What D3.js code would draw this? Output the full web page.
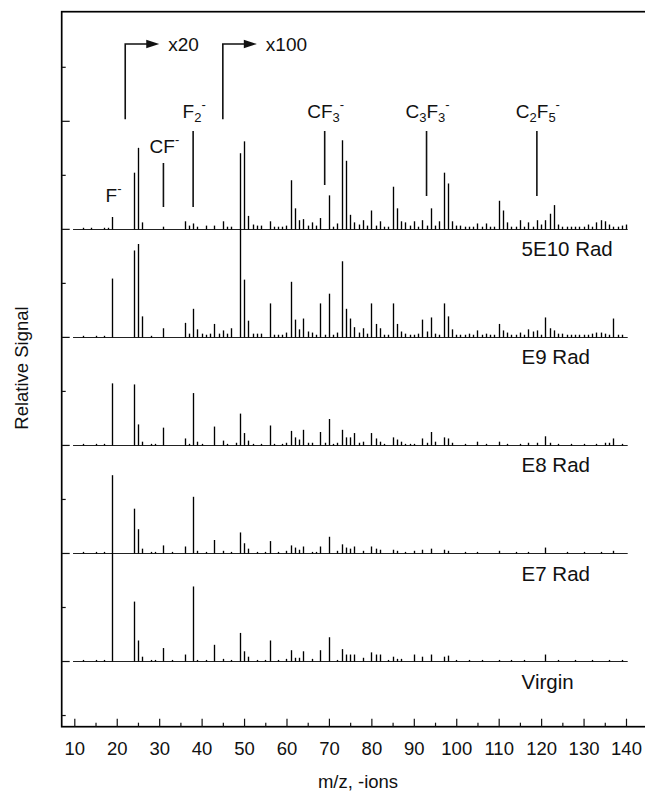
<!DOCTYPE html>
<html>
<head>
<meta charset="utf-8">
<title>Negative ion spectra</title>
<script src="https://d3js.org/d3.v7.min.js"></script>
<style>
    body { margin: 0; background-color: #fff; }
    svg text { font-family: "Liberation Sans", Arial, Helvetica, sans-serif; fill: #111; }
</style>
</head>
<body>
<svg width="645" height="795"></svg>
<script>
    // spectra, top to bottom; each entry is [m/z, relative signal]
    var spectrumNames = ["5E10 Rad", "E9 Rad", "E8 Rad", "E7 Rad", "Virgin"];
    var spectrumOffsets = [400, 300, 200, 100, 0];

    var rad5E10 = [[12,1],[14,1],[17,1],[18,1],[19,11],[24,52],[25,75],[26,6],[31,2],[36,7],[37,3],[38,5],[39,2],[41,3],[43,3],
        [45,7],[46,2],[47,2],[49,70],[50,81],[51,12],[52,4],[53,3],[54,3],[56,7],[57,2],[58,2],[59,2],[60,3],[61,45],[62,19],
        [63,8],[64,9],[65,3],[66,6],[67,3],[68,10],[70,31],[71,2],[72,5],[73,82],[74,63],[75,13],[76,6],[77,4],[78,8],[79,3],
        [80,17],[81,3],[82,7],[83,2],[84,2],[85,39],[86,19],[87,7],[88,6],[89,3],[90,7],[91,2],[92,8],[93,3],[94,19],[95,3],
        [96,7],[97,52],[98,42],[99,7],[100,3],[101,3],[102,2],[103,2],[104,2],[105,5],[106,2],[107,5],[108,2],[109,2],[110,26],
        [111,17],[112,6],[113,2],[114,2],[115,8],[116,2],[117,6],[118,2],[119,8],[120,4],[121,8],[122,14],[123,22],[124,4],
        [125,2],[126,2],[127,2],[128,2],[129,2],[130,2],[131,4],[132,2],[133,6],[134,8],[135,7],[136,4],[137,2],[138,2],[139,3],[140,4]];

    var radE9 = [[12,1],[15,1],[17,1],[19,54],[24,80],[25,86],[26,19],[28,1],[31,8],[36,13],[37,3],[38,26],[39,7],[40,3],[41,2],
        [42,3],[43,12],[44,3],[45,6],[46,3],[47,8],[49,100],[50,53],[51,15],[52,3],[53,3],[54,3],[56,31],[57,2],[58,2],[59,2],
        [60,4],[61,51],[62,16],[63,7],[64,17],[65,5],[66,4],[67,2],[68,31],[69,2],[70,40],[71,2],[72,4],[73,70],[74,26],[75,17],
        [76,9],[77,4],[78,8],[79,3],[80,31],[81,12],[82,8],[83,2],[84,2],[85,31],[86,12],[87,5],[88,3],[89,2],[90,2],[91,3],
        [92,16],[93,5],[94,18],[95,3],[96,2],[97,31],[98,19],[99,7],[100,2],[101,2],[102,2],[103,3],[104,2],[105,6],[106,2],
        [107,3],[108,2],[109,2],[110,12],[111,6],[112,4],[113,2],[114,2],[115,4],[116,2],[117,7],[118,5],[119,6],[120,2],
        [121,18],[122,8],[123,6],[124,3],[125,3],[126,2],[127,2],[128,2],[129,2],[130,2],[131,2],[132,3],[133,4],[134,4],
        [135,3],[136,2],[137,17],[138,2],[139,2]];

    var radE8 = [[12,1],[15,1],[17,1],[19,57],[24,56],[25,19],[26,3],[28,1],[29,1],[31,16],[36,6],[37,1],[38,48],[39,3],[40,1],
        [43,17],[45,4],[46,1],[48,2],[49,29],[50,11],[51,4],[52,1],[54,1],[56,18],[57,1],[59,1],[60,2],[61,13],[62,7],[63,5],
        [64,14],[65,2],[66,2],[68,12],[69,2],[70,24],[71,1],[72,2],[73,14],[74,7],[75,7],[76,11],[77,2],[78,3],[80,11],[81,6],
        [82,3],[83,1],[85,7],[86,5],[87,3],[88,1],[89,1],[90,1],[92,6],[93,2],[94,12],[95,3],[97,7],[98,6],[99,2],[102,1],
        [105,3],[107,1],[110,3],[112,1],[115,1],[117,2],[119,2],[121,8],[122,2],[124,1],[127,1],[130,1],[133,1],[135,2],
        [136,2],[137,6],[139,1]];

    var radE7 = [[12,1],[15,1],[17,1],[19,72],[24,41],[25,22],[26,4],[28,1],[29,1],[31,7],[33,1],[36,6],[38,52],[39,2],[41,1],
        [43,12],[45,2],[47,1],[49,19],[50,9],[51,4],[53,1],[55,1],[56,11],[58,1],[60,2],[61,7],[62,5],[63,3],[64,6],[66,1],
        [67,1],[68,6],[70,15],[72,2],[73,8],[74,5],[75,4],[76,6],[78,2],[80,6],[81,4],[82,3],[85,3],[86,2],[88,1],[90,2],
        [92,3],[94,4],[97,3],[98,2],[102,1],[105,1],[110,2],[114,1],[117,1],[121,5],[126,1],[130,1],[134,1],[137,2]];

    var virgin = [[12,1],[15,1],[17,1],[19,100],[24,55],[25,19],[26,4],[28,1],[29,1],[31,12],[33,1],[36,6],[38,69],[39,1],
        [41,1],[43,15],[45,2],[47,1],[49,26],[50,9],[51,4],[53,1],[55,1],[56,19],[58,1],[60,2],[61,10],[62,3],[63,3],[64,9],
        [66,2],[68,10],[70,22],[72,1],[73,11],[74,6],[75,6],[76,6],[78,3],[80,8],[81,6],[82,6],[84,1],[85,4],[86,2],[87,2],
        [90,6],[92,4],[94,6],[97,4],[98,5],[100,1],[103,1],[106,1],[110,1],[113,1],[116,1],[121,6],[124,1],[128,1],[132,1],
        [136,1],[139,1]];

    var spectra = [rad5E10, radE9, radE8, radE7, virgin];

    var xTicks = [10, 20, 30, 40, 50, 60, 70, 80, 90, 100, 110, 120, 130, 140];
    var xMinorTicks = [15, 25, 35, 45, 55, 65, 75, 85, 95, 105, 115, 125, 135];
    var yMajorTicks = [0, 100, 200, 300, 400, 500];
    var yMinorTicks = [-50, 50, 150, 250, 350, 450, 550];

    // ion assignments on the top trace; parts: 0 normal, -1 subscript, 1 superscript
    var ionMz = [19, 31, 38, 69, 93, 119];
    var ionParts = [
        [["F", 0], ["-", 1]],
        [["CF", 0], ["-", 1]],
        [["F", 0], ["2", -1], ["-", 1]],
        [["CF", 0], ["3", -1], ["-", 1]],
        [["C", 0], ["3", -1], ["F", 0], ["3", -1], ["-", 1]],
        [["C", 0], ["2", -1], ["F", 0], ["5", -1], ["-", 1]]
    ];
    var gainMz = [22, 45];
    var gainLabels = ["x20", "x100"];

    var svg = d3.select("svg");

    var x = d3.scaleLinear().domain([10, 140]).range([74.3, 626]);
    var y = d3.scaleLinear().domain([-60.8, 601]).range([726.7, 11.7]);

    // frame (right side runs off the page)
    svg.append("rect")
        .attr("x", 61.7).attr("y", 11.7)
        .attr("width", 600).attr("height", 715)
        .attr("fill", "none")
        .attr("stroke", "#000")
        .attr("stroke-width", 1.7);

    function styleAxis(g) {
        g.select(".domain").remove();
        g.selectAll(".tick line").attr("stroke", "#111").attr("stroke-width", 1.2);
    }

    svg.append("g")
        .attr("transform", "translate(0,726.7)")
        .call(d3.axisBottom(x).tickValues(xTicks).tickSizeInner(-8).tickSizeOuter(0).tickPadding(15))
        .call(styleAxis)
        .selectAll("text")
        .style("font-size", "18.5px");

    svg.append("g")
        .attr("transform", "translate(0,726.7)")
        .call(d3.axisBottom(x).tickValues(xMinorTicks).tickSizeInner(-4).tickSizeOuter(0).tickFormat(""))
        .call(styleAxis);

    svg.append("g")
        .attr("transform", "translate(61.7,0)")
        .call(d3.axisLeft(y).tickValues(yMajorTicks).tickSizeInner(-8).tickSizeOuter(0).tickFormat(""))
        .call(styleAxis);

    svg.append("g")
        .attr("transform", "translate(61.7,0)")
        .call(d3.axisLeft(y).tickValues(yMinorTicks).tickSizeInner(-4).tickSizeOuter(0).tickFormat(""))
        .call(styleAxis);

    spectra.forEach(function (data, i) {
        var base = spectrumOffsets[i];
        var y0 = Math.round(y(base)) + 0.5;
        var g = svg.append("g");

        g.append("line")
            .attr("x1", x(9.7)).attr("x2", x(140.4))
            .attr("y1", y0).attr("y2", y0)
            .attr("stroke", "#222")
            .attr("stroke-width", 1.1);

        g.selectAll("line.peak")
            .data(data)
            .enter().append("line")
            .attr("class", "peak")
            .attr("x1", function (d) { return Math.round(x(d[0])) + 0.5; })
            .attr("x2", function (d) { return Math.round(x(d[0])) + 0.5; })
            .attr("y1", y0)
            .attr("y2", function (d) { return y(base + d[1]); })
            .attr("stroke", "#000")
            .attr("stroke-width", 1.35);

        g.append("text")
            .attr("x", x(115.4))
            .attr("y", y(base - 25.5))
            .style("font-size", "20.5px")
            .text(spectrumNames[i]);
    });

    // ion labels and pointer lines
    var ionLabelY = [201.7, 153, 118, 118, 118, 118];
    var ionLineTop = [null, 163, 131, 131, 131, 131];
    var ionLineBottom = [null, 207, 207, 185, 196, 196];

    ionMz.forEach(function (mz, i) {
        if (ionLineTop[i] !== null) {
            svg.append("line")
                .attr("x1", x(mz)).attr("x2", x(mz))
                .attr("y1", ionLineTop[i]).attr("y2", ionLineBottom[i])
                .attr("stroke", "#111")
                .attr("stroke-width", 1.6);
        }
        var t = svg.append("text")
            .attr("x", x(mz) + 1)
            .attr("y", ionLabelY[i])
            .attr("text-anchor", "middle")
            .style("font-size", "19px");
        var shift = 0;
        ionParts[i].forEach(function (p) {
            var target = p[1] === -1 ? 4 : (p[1] === 1 ? -9 : 0);
            t.append("tspan")
                .attr("dy", target - shift)
                .style("font-size", p[1] === 0 ? "19px" : "13px")
                .text(p[0]);
            shift = target;
        });
    });

    // gain change arrows
    gainMz.forEach(function (mz, i) {
        var x0 = x(mz), tip = x0 + 34;
        svg.append("path")
            .attr("d", "M" + x0 + ",119.3V44H" + (tip - 10))
            .attr("fill", "none")
            .attr("stroke", "#111")
            .attr("stroke-width", 1.6);
        svg.append("path")
            .attr("d", "M" + (tip - 13) + ",39.8L" + tip + ",44L" + (tip - 13) + ",48.2Z")
            .attr("fill", "#111");
        svg.append("text")
            .attr("x", tip + 9)
            .attr("y", 51)
            .style("font-size", "19px")
            .text(gainLabels[i]);
    });

    svg.append("text")
        .attr("x", 358)
        .attr("y", 788)
        .attr("text-anchor", "middle")
        .style("font-size", "18.5px")
        .text("m/z, -ions");

    svg.append("text")
        .attr("transform", "translate(28,368) rotate(-90)")
        .attr("text-anchor", "middle")
        .style("font-size", "18.5px")
        .text("Relative Signal");
</script>
</body>
</html>
